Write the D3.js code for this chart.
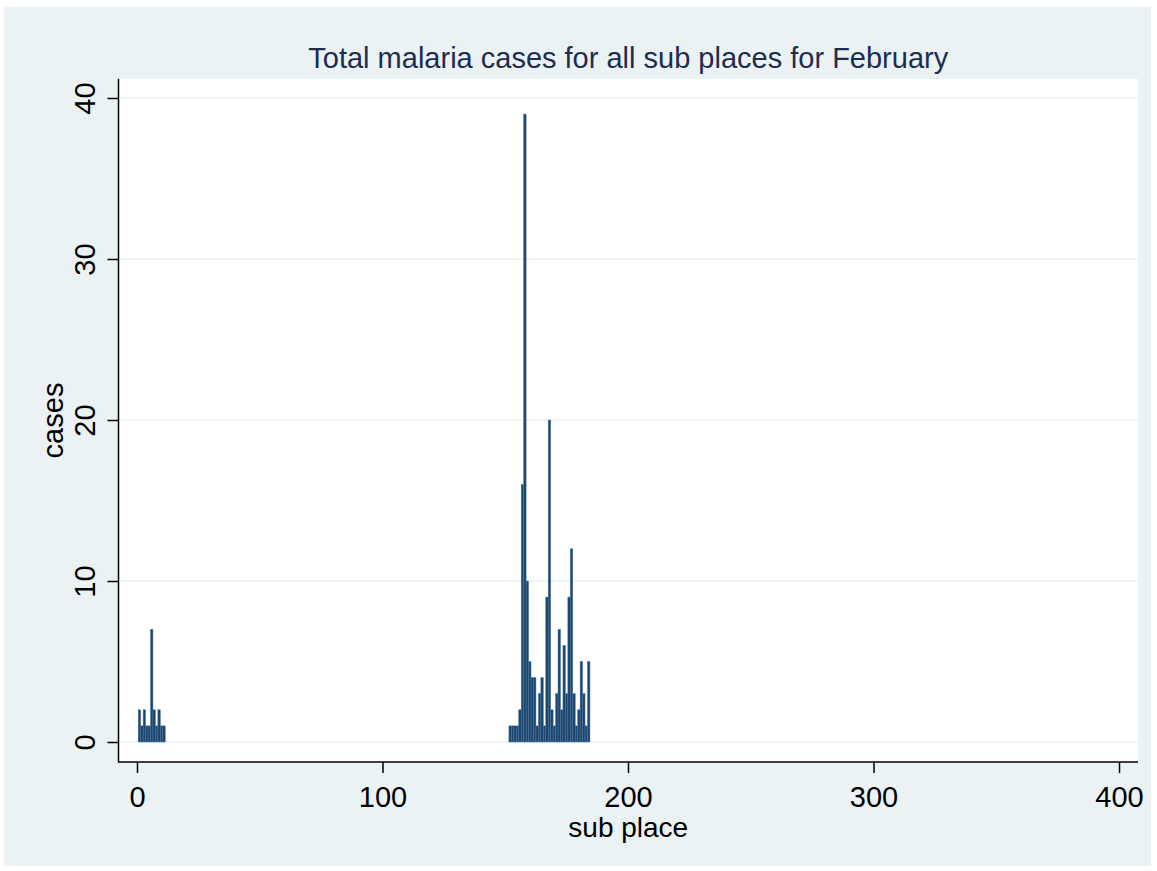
<!DOCTYPE html>
<html>
<head>
<meta charset="utf-8">
<script src="https://cdn.jsdelivr.net/npm/d3@7"></script>
<style>
  body { margin: 0; background: #fff; }
  text { font-family: "Liberation Sans", Arial, sans-serif; }
</style>
</head>
<body>
<div id="chart"></div>
<script>
// sub place ids and malaria cases (February)
var subPlaces = [1, 2, 3, 4, 5, 6, 7, 8, 9, 10, 11,
  152, 153, 154, 155, 156, 157, 158, 159, 160, 161, 162, 163, 164, 165, 166, 167,
  168, 169, 170, 171, 172, 173, 174, 175, 176, 177, 178, 179, 180, 181, 182, 183, 184];
var cases = [2, 1, 2, 1, 1, 7, 2, 1, 2, 1, 1,
  1, 1, 1, 1, 2, 16, 39, 10, 5, 4, 4, 1, 3, 4, 1, 9,
  20, 2, 1, 3, 7, 2, 6, 3, 9, 12, 3, 1, 2, 5, 3, 1, 5];
var xTicks = [0, 100, 200, 300, 400];
var yTicks = [0, 10, 20, 30, 40];

var data = subPlaces.map(function (d, i) {
  return { place: d, cases: cases[i] };
});

var W = 1157, H = 871;
var plot = { left: 118.5, right: 1138, top: 79, bottom: 762 };

var svg = d3
  .select("#chart")
  .append("svg")
  .attr("width", W)
  .attr("height", H);

// outer background
svg.append("rect")
  .attr("x", 4).attr("y", 7)
  .attr("width", 1147).attr("height", 859)
  .attr("fill", "#eaf2f3");

// plot region
svg.append("rect")
  .attr("x", plot.left).attr("y", plot.top)
  .attr("width", plot.right - plot.left)
  .attr("height", plot.bottom - plot.top)
  .attr("fill", "#ffffff");

var x = d3.scaleLinear().domain([0, 400]).range([137, 1119]);
var y = d3.scaleLinear().domain([0, 40]).range([742, 98]);

// gridlines
svg.append("g")
  .selectAll("line")
  .data(yTicks)
  .enter()
  .append("line")
  .attr("x1", plot.left)
  .attr("x2", plot.right)
  .attr("y1", function (d) { return y(d); })
  .attr("y2", function (d) { return y(d); })
  .attr("stroke", "#eaf2f3")
  .attr("stroke-width", 1.5);

// bars
svg.append("g")
  .selectAll("rect")
  .data(data)
  .enter()
  .append("rect")
  .attr("x", function (d) { return x(d.place - 0.5); })
  .attr("width", function (d) { return x(d.place + 0.5) - x(d.place - 0.5); })
  .attr("y", function (d) { return y(d.cases); })
  .attr("height", function (d) { return y(0) - y(d.cases); })
  .attr("fill", "#1a476f")
  .attr("stroke", "#4f7297")
  .attr("stroke-width", 0.5);

// axes
var yAxis = d3.axisLeft(y).tickValues(yTicks).tickSize(11).tickPadding(0);
var gy = svg.append("g")
  .attr("transform", "translate(" + plot.left + ",0)")
  .call(yAxis);
gy.select(".domain").remove();
gy.selectAll(".tick line").attr("stroke", "#000").attr("stroke-width", 1.5);
gy.selectAll(".tick text")
  .attr("x", null).attr("dy", null)
  .attr("transform", "translate(-24,0) rotate(-90)")
  .attr("text-anchor", "middle")
  .attr("fill", "#000")
  .style("font-size", "29px");

var xAxis = d3.axisBottom(x).tickValues(xTicks).tickSize(11).tickPadding(0);
var gx = svg.append("g")
  .attr("transform", "translate(0," + plot.bottom + ")")
  .call(xAxis);
gx.select(".domain").remove();
gx.selectAll(".tick line").attr("stroke", "#000").attr("stroke-width", 1.5);
gx.selectAll(".tick text")
  .attr("y", 45).attr("dy", null)
  .attr("fill", "#000")
  .style("font-size", "29px");

// axis lines
svg.append("line")
  .attr("x1", plot.left).attr("x2", plot.left)
  .attr("y1", plot.top).attr("y2", plot.bottom + 0.75)
  .attr("stroke", "#000").attr("stroke-width", 1.5);
svg.append("line")
  .attr("x1", plot.left).attr("x2", plot.right)
  .attr("y1", plot.bottom).attr("y2", plot.bottom)
  .attr("stroke", "#000").attr("stroke-width", 1.5);

// titles
svg.append("text")
  .attr("x", (plot.left + plot.right) / 2)
  .attr("y", 68)
  .attr("text-anchor", "middle")
  .attr("fill", "#1e2d4f")
  .style("font-size", "29px")
  .text("Total malaria cases for all sub places for February");

svg.append("text")
  .attr("x", (plot.left + plot.right) / 2)
  .attr("y", 837)
  .attr("text-anchor", "middle")
  .attr("fill", "#000")
  .style("font-size", "28px")
  .text("sub place");

svg.append("text")
  .attr("transform", "translate(63," + (plot.top + plot.bottom) / 2 + ") rotate(-90)")
  .attr("text-anchor", "middle")
  .attr("fill", "#000")
  .style("font-size", "29px")
  .text("cases");
</script>
</body>
</html>
